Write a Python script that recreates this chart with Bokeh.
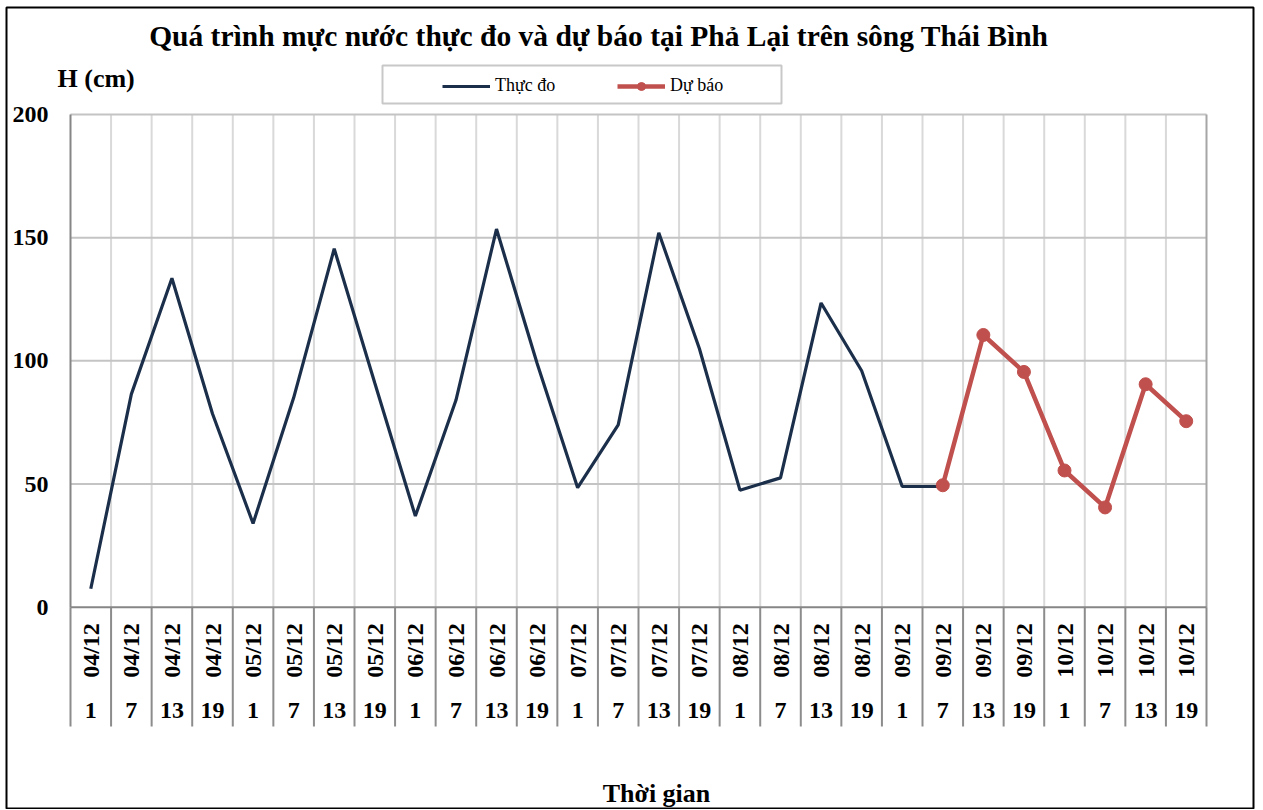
from math import pi
from bokeh.plotting import figure
from bokeh.models import Range1d, Legend, LegendItem, ColumnDataSource
from bokeh.core.properties import value
from bokeh.embed import file_html
from bokeh.resources import INLINE

# ---------------- data ----------------
dates = ["04/12"] * 4 + ["05/12"] * 4 + ["06/12"] * 4 + ["07/12"] * 4 + \
        ["08/12"] * 4 + ["09/12"] * 4 + ["10/12"] * 4
hours = ["1", "7", "13", "19"] * 7
observed = [7.5, 86.5, 133.5, 78.5, 34, 85, 145.5, 91, 37, 84, 153.5, 99,
            48.5, 74, 152, 105, 47.5, 52.5, 123.5, 96, 49, 49]
forecast_start = 21
forecast = [49.5, 110.5, 95.5, 55.5, 40.5, 90.5, 75.5]
y_ticks = [0, 50, 100, 150, 200]

title_text = "Quá trình  mực nước thực đo và dự báo tại Phả Lại trên sông Thái Bình"
y_title = "H (cm)"
x_title = "Thời gian"
names = ["Thực đo", "Dự báo"]

# ---------------- layout constants (pixels) ----------------
FONT = "Liberation Serif"
n = len(hours)
FL, FT = 6, 7            # frame left / top on the canvas
FW, FH = 1247, 801       # frame size
W, H = FL + FW + 4, FT + FH + 1
PLOT_L, PLOT_R = 70, 1206        # pixel x of category 0 and n
Y0_PX, Y200_PX = 606.7, 114.0    # pixel y of value 0 and 200
PX = (PLOT_R - PLOT_L) / n
PY = (Y0_PX - Y200_PX) / 200.0
x_start = -(PLOT_L - FL) / PX
x_end = x_start + FW / PX
y_end = (Y0_PX - FT) / PY
y_start = y_end - FH / PY


def dx(px):
    return (px - PLOT_L) / PX


def dy(py):
    return (Y0_PX - py) / PY


YMIN = dy(726)

p = figure(width=W, height=H, output_backend="svg", toolbar_location=None,
           x_range=Range1d(x_start, x_end), y_range=Range1d(y_start, y_end),
           title=None, x_axis_location=None, y_axis_location=None,
           min_border_left=FL, min_border_right=4, min_border_top=FT,
           min_border_bottom=1)
p.grid.visible = False
p.outline_line_color = "black"
p.outline_line_width = 2
p.background_fill_color = "white"
p.border_fill_color = "white"

# grid lines
bounds_inner = list(range(1, n))
p.segment(x0=bounds_inner, x1=bounds_inner, y0=[0] * len(bounds_inner),
          y1=[200] * len(bounds_inner), line_color="#D9D9D9", line_width=2)
hy = [t for t in y_ticks if t > 0]
p.segment(x0=[0] * len(hy), x1=[n] * len(hy), y0=hy, y1=hy,
          line_color="#C4C4C4", line_width=2)
p.segment(x0=[n], x1=[n], y0=[0], y1=[200], line_color="#A6A6A6", line_width=2)
# y axis line
p.segment(x0=[0], x1=[0], y0=[0], y1=[200], line_color="#868686", line_width=2)
# category axis table
all_bounds = list(range(0, n + 1))
p.segment(x0=all_bounds, x1=all_bounds, y0=[0] * len(all_bounds),
          y1=[YMIN] * len(all_bounds), line_color="#8C8C8C", line_width=2)
p.segment(x0=[0], x1=[n], y0=[0], y1=[0], line_color="#868686", line_width=2)

# y tick labels
p.text(x=[dx(48)] * len(y_ticks), y=y_ticks, text=[str(t) for t in y_ticks],
       text_align="right", text_baseline="middle", text_font=value(FONT),
       text_font_style="bold", text_font_size="24px", text_color="black")

centers = [i + 0.5 for i in range(n)]
p.text(x=centers, y=[dy(650)] * n, text=dates, angle=pi / 2, text_align="center",
       text_baseline="middle", text_font=value(FONT), text_font_style="bold",
       text_font_size="24px", text_color="black")
p.text(x=centers, y=[dy(710)] * n, text=hours, text_align="center",
       text_baseline="middle", text_font=value(FONT), text_font_style="bold",
       text_font_size="24px", text_color="black")

# titles
p.text(x=[dx(602)], y=[dy(35)], text=[title_text], text_align="center",
       text_baseline="middle", text_font=value(FONT), text_font_style="bold",
       text_font_size="29.5px", text_color="black")
p.text(x=[dx(57)], y=[dy(78)], text=[y_title], text_align="left",
       text_baseline="middle", text_font=value(FONT), text_font_style="bold",
       text_font_size="26px", text_color="black")
p.text(x=[dx(656)], y=[dy(793)], text=[x_title], text_align="center",
       text_baseline="middle", text_font=value(FONT), text_font_style="bold",
       text_font_size="26px", text_color="black")

# legend box
p.quad(left=[dx(382)], right=[dx(781)], top=[dy(65)], bottom=[dy(103)],
       fill_color="white", line_color="#C8C8C8", line_width=2)

# series
obs_src = ColumnDataSource(dict(x=centers[:len(observed)], y=observed))
fc_src = ColumnDataSource(dict(x=centers[forecast_start:forecast_start + len(forecast)],
                               y=forecast))
r_obs = p.line("x", "y", source=obs_src, line_color="#1B2F4B", line_width=3.2)
r_fc = p.line("x", "y", source=fc_src, line_color="#C0504D", line_width=4.5)
r_fcm = p.scatter("x", "y", source=fc_src, size=13, fill_color="#C0504D",
                  line_color="#C0504D", marker="circle")

legend = Legend(items=[LegendItem(label=names[0], renderers=[r_obs]),
                       LegendItem(label=names[1], renderers=[r_fc, r_fcm])],
                orientation="horizontal", location=(442 - FL, (FT + FH) - 96),
                padding=0, spacing=0, margin=0, glyph_width=48, glyph_height=20,
                label_standoff=5, label_width=122, border_line_color=None,
                background_fill_alpha=0, label_text_font=FONT,
                label_text_font_size="18px", label_text_color="black")
p.add_layout(legend, "center")

open("out.html", "w").write(file_html(p, INLINE))
